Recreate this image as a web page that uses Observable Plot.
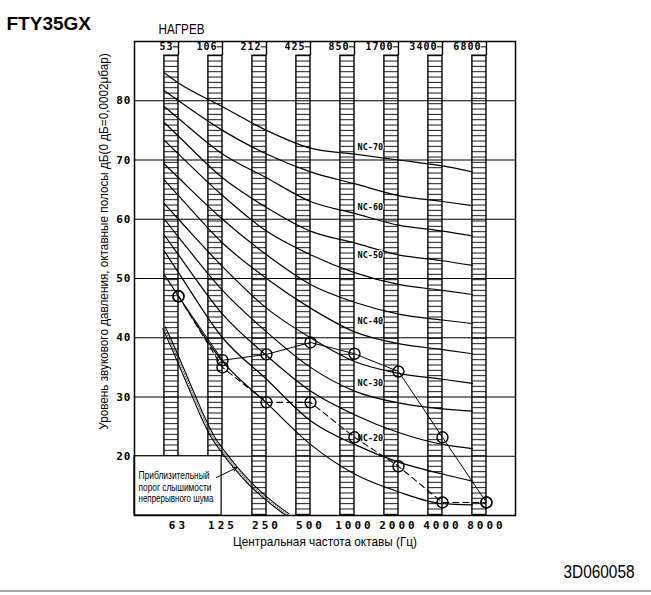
<!DOCTYPE html>
<html><head><meta charset="utf-8">
<script src="https://cdn.jsdelivr.net/npm/d3@7"></script>
<script src="https://cdn.jsdelivr.net/npm/@observablehq/plot@0.6"></script>
<style>
html,body{margin:0;padding:0;background:#fff;}
#wrap{position:relative;width:651px;height:595px;overflow:hidden;background:#fff;}
.nc g[aria-label="x-axis tick label"] text{letter-spacing:3px;}
.nc g[aria-label="y-axis tick label"] text{letter-spacing:1px;}
.nc .edge text{letter-spacing:1px;}
</style></head><body><div id="wrap"></div>
<script>
// Octave band centre frequencies (x tick labels) and the band-edge labels along the top
const bands = [63, 125, 250, 500, 1000, 2000, 4000, 8000];
const bandEdges = [53, 106, 212, 425, 850, 1700, 3400, 6800];
const yTicks = [20, 30, 40, 50, 60, 70, 80];

// Measured unit spectra (dB) at the band centres
const seriesSolid  = [47, 36.2, 37.2, 39.2, 37.3, 34.3, 23.2, 12.2];
const seriesDashed = [47, 35.0, 29.1, 29.1, 23.2, 18.3, 12.2, 12.2];

// NC curves: values at the 53 edge, 63 ... 4000, and the 6800 edge
const ncLevels = [70, 65, 60, 55, 50, 45, 40, 35, 30, 25, 20, 15];
const nc70 = [84.7, 83, 79, 75, 72, 71, 70, 69, 68.0];
const nc65 = [81.7, 80, 75, 71, 68, 66, 64, 63, 62.3];
const nc60 = [79.0, 77, 71, 67, 63, 61, 59, 58, 57.2];
const nc55 = [76.3, 74, 67, 62, 58, 56, 54, 53, 52.2];
const nc50 = [73.3, 71, 64, 58, 54, 51, 49, 48, 47.3];
const nc45 = [69.3, 67, 60, 54, 49, 46, 44, 43, 42.4];
const nc40 = [66.6, 64, 56, 50, 45, 41, 39, 38, 37.3];
const nc35 = [62.6, 60, 52, 45, 40, 36, 34, 33, 32.3];
const nc30 = [60.0, 57, 48, 41, 35, 31, 29, 28, 27.6];
const nc25 = [57.3, 54, 44, 37, 31, 27, 24, 22, 21.3];
const nc20 = [54.6, 51, 40, 33, 26, 22, 19, 17, 15.8];
const nc15 = [50.6, 47, 36, 29, 22, 17, 14, 12, 11.8];
const ncLabelLevels = [70, 60, 50, 40, 30, 20];
const ncLabelDb = [72.1, 62.0, 53.9, 42.7, 32.4, 23.0];

// Approximate threshold of hearing (octave position, dB)
const thresholdPos = [0.643, 0.834, 1.061, 1.289, 1.516, 1.743, 2.007, 2.273, 2.575, 2.955, 3.334, 3.45];
const thresholdDb  = [41.5, 38.4, 34.5, 30.5, 26.6, 23.2, 20.4, 17.9, 15.4, 12.8, 10.6, 10.0];
const thresholdLines = ["Приблизительный", "порог слышимости", "непрерывного шума"];

const title = "FTY35GX";
const mode = "НАГРЕВ";
const code = "3D060058";
const yLabel = "Уровень звукового давления, октавные полосы дБ(0 дБ=0,0002μбар)";
const xLabel = "Центральная частота октавы (Гц)";

const barW = 0.32;
const bandPos = bands.map((d, i) => i + 1);
const ncX = [1 - barW, 1, 2, 3, 4, 5, 6, 7, 8 - barW];
const ncTable = [nc70, nc65, nc60, nc55, nc50, nc45, nc40, nc35, nc30, nc25, nc20, nc15];
const ncRows = [];
ncTable.forEach((row, k) => row.forEach((v, j) => ncRows.push({nc: ncLevels[k], x: ncX[j], y: v})));
const hatch = [];
bandPos.forEach(p => { const lo = p <= 2 ? 20 : 10; for (const v of d3.range(87.6, lo, -0.9)) hatch.push({p, v}); });
const thr = thresholdPos.map((x, i) => ({x, y: thresholdDb[i]}));

const mono = "'DejaVu Sans Mono', monospace";
const sans = "'Liberation Sans', Arial, sans-serif";

const chart = Plot.plot({
  className: "nc",
  width: 651, height: 595,
  marginLeft: 134, marginRight: 136, marginTop: 41, marginBottom: 80,
  x: {domain: [0, 8.66]},
  y: {domain: [10, 90]},
  style: {fontFamily: sans, color: "black", background: "white", overflow: "visible"},
  marks: [
    Plot.ruleY(yTicks, {stroke: "black", strokeWidth: 1.1}),
    Plot.ruleY(hatch, {x1: d => d.p - barW, x2: d => d.p, y: "v", stroke: "black", strokeWidth: 0.9}),
    Plot.rect(bandPos, {x1: p => p - barW, x2: p => p, y1: p => p <= 2 ? 20 : 10, y2: 87.6, stroke: "black", strokeWidth: 1.4, fill: "none"}),
    Plot.ruleX(bandPos, {x: p => p, y1: 87.6, y2: 90, stroke: "black", strokeWidth: 1.4}),
    Plot.ruleY(bandPos, {x1: p => p - 0.12, x2: p => p, y: 89.1, stroke: "black", strokeWidth: 1}),
    Plot.text(bandPos, {x: p => p, y: 89.1, text: (p, i) => String(bandEdges[i]), textAnchor: "end", dx: -5, fontFamily: mono, fontWeight: "bold", fontSize: 10, className: "edge"}),
    Plot.line(ncRows, {x: "x", y: "y", z: "nc", curve: "monotone-x", stroke: "black", strokeWidth: 1.2}),
    Plot.text(ncLabelLevels, {x: 5.07, y: (d, i) => ncLabelDb[i], text: d => "NC-" + d, textAnchor: "start", fontFamily: mono, fontWeight: "bold", fontSize: 8.5, stroke: "white", strokeWidth: 2, fill: "black"}),
    Plot.line(thr, {x: "x", y: "y", curve: "monotone-x", stroke: "black", strokeWidth: 1.1}),
    Plot.line(thr, {x: "x", y: "y", curve: "monotone-x", stroke: "#555", strokeWidth: 1, strokeDasharray: "1,1.5", dx: 1.3, dy: -0.9}),
    Plot.line(thr, {x: "x", y: "y", curve: "monotone-x", stroke: "black", strokeWidth: 1.1, dx: 2.6, dy: -1.8}),
    Plot.rect([0], {x1: 0, x2: 1.98, y1: 10, y2: 20, fill: "white", stroke: "black", strokeWidth: 1.2}),
    Plot.text(thresholdLines, {x: 0, y: (d, i) => 16.7 - i * 1.95, text: d => d, textAnchor: "start", dx: 4, fontSize: 11, className: "thrtext"}),
    Plot.arrow([0], {x1: 1.86, y1: 16.4, x2: 2.32, y2: 18.06, stroke: "black", strokeWidth: 1, headLength: 6}),
    Plot.line(seriesSolid, {x: (d, i) => i + 1, y: d => d, stroke: "black", strokeWidth: 1}),
    Plot.line(seriesDashed, {x: (d, i) => i + 1, y: d => d, stroke: "black", strokeWidth: 1.1, strokeDasharray: "6,4"}),
    Plot.dot(seriesSolid, {x: (d, i) => i + 1, y: d => d, r: 5.5, stroke: "black", strokeWidth: 1.4}),
    Plot.dot(seriesDashed, {x: (d, i) => i + 1, y: d => d, r: 5.5, stroke: "black", strokeWidth: 1.4}),
    Plot.frame({stroke: "black", strokeWidth: 1.5}),
    Plot.axisY({ticks: yTicks, tickSize: 0, tickPadding: 3, label: null, fontFamily: mono, fontWeight: "bold", fontSize: 11}),
    Plot.axisX({ticks: bandPos, tickFormat: p => String(bands[p - 1]), tickSize: 0, tickPadding: 6, label: null, fontFamily: mono, fontWeight: "bold", fontSize: 11}),
    Plot.text([title], {frameAnchor: "top-left", dx: -128, dy: -12, text: d => d, textAnchor: "start", lineAnchor: "bottom", fontFamily: sans, fontWeight: "bold", fontSize: 19}),
    Plot.text([mode], {frameAnchor: "top-left", dx: 24, dy: -8, text: d => d, textAnchor: "start", lineAnchor: "bottom", fontSize: 14, className: "t-mode"}),
    Plot.text([yLabel], {frameAnchor: "left", dx: -31, dy: -37, rotate: -90, text: d => d, textAnchor: "middle", fontSize: 13.5, className: "t-ylab"}),
    Plot.text([xLabel], {frameAnchor: "bottom", dy: 30, text: d => d, textAnchor: "middle", lineAnchor: "bottom", fontSize: 13.5, className: "t-xlab"}),
    Plot.text([code], {frameAnchor: "bottom-right", dx: 119, dy: 62, text: d => d, textAnchor: "end", lineAnchor: "bottom", fontSize: 18, className: "t-code"})
  ]
});
const wrap = document.getElementById("wrap");
wrap.appendChild(chart);

// thin grey separator at the bottom of the sheet
d3.select(chart).append("rect")
  .attr("x", 0).attr("width", 651).attr("y", 590).attr("height", 2)
  .attr("fill", "#a8a8a8");

// condensed (Arial Narrow-like) rendering of the label texts
function condense(cls, widths) {
  chart.querySelectorAll("." + cls + " text").forEach((t, i) => {
    t.setAttribute("textLength", Array.isArray(widths) ? widths[i] : widths);
    t.setAttribute("lengthAdjust", "spacingAndGlyphs");
  });
}
condense("t-mode", 46);
condense("t-xlab", 184);
condense("t-code", 71);
condense("thrtext", [71, 73, 75]);
// rotated axis title: squeeze along its own direction with a scale in its transform
chart.querySelectorAll(".t-ylab text").forEach(t => {
  const natural = t.getComputedTextLength();
  const sx = 377 / natural;
  t.setAttribute("transform", (t.getAttribute("transform") || "") + ` scale(${sx},1)`);
});
</script>
</body></html>
